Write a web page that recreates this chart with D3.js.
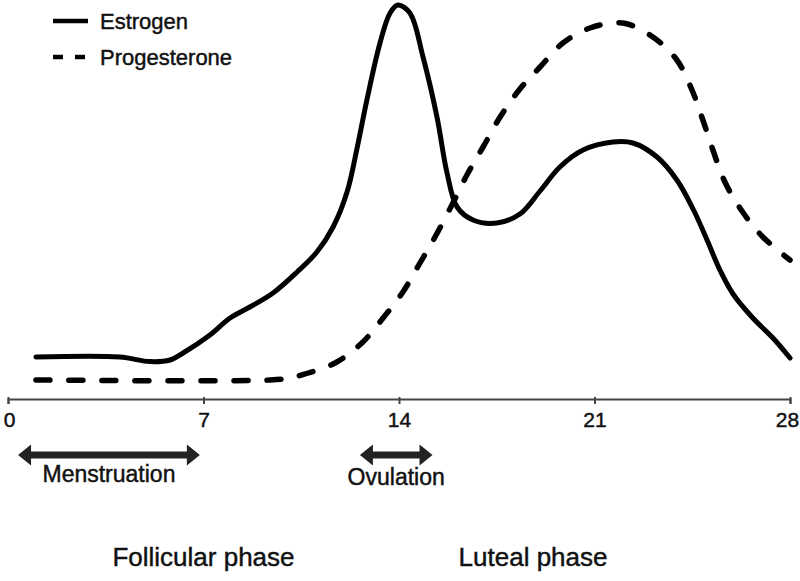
<!DOCTYPE html>
<html>
<head>
<meta charset="utf-8">
<script src="https://cdn.jsdelivr.net/npm/d3@7"></script>
<style>
  body { margin: 0; background: #fff; }
  text { font-family: "Liberation Sans", Arial, Helvetica, sans-serif; fill: #111; stroke: #111; stroke-width: 0.45px; }
</style>
</head>
<body>
<div id="chart"></div>
<script>
// day of cycle vs relative hormone level (0-100)
var estrogen = [[1, 10.75], [4, 10.75], [5.08, 9.6], [5.8, 10], [6.27, 11.75], [7.23, 16.25],
  [7.95, 20.5], [8.66, 23.25], [9.49, 26.75], [10.35, 32], [11.06, 37], [11.64, 43.25],
  [12.14, 52], [12.5, 63], [12.85, 75], [13.32, 89.25], [13.68, 96.75], [13.96, 98.75], [14.39, 96.75],
  [14.86, 85.75], [15.36, 70.75], [15.72, 56.75], [16.08, 48.25], [16.65, 45], [17.51, 44.25],
  [18.33, 46.5], [19.05, 52.25], [19.76, 58.25], [20.59, 62.5], [21.66, 64.5], [22.38, 64.25],
  [23.24, 60.75], [23.95, 55], [24.53, 47.75], [25.03, 40], [25.49, 32.5], [25.96, 26.5],
  [26.67, 20.5], [27.39, 15.5], [28, 10.5]];

var progesterone = [[1, 5], [9.38, 5], [10.1, 5.5], [10.63, 6.5], [11.71, 9.25], [12.67, 14.25],
  [13.43, 20.5], [14.14, 27], [14.75, 34.25], [15.29, 40.75], [15.93, 49.25], [16.47, 56.75],
  [17.01, 63.25], [17.62, 70.75], [18.3, 77.5], [19.05, 83.25], [19.87, 89.25], [20.84, 93],
  [22.02, 94.25], [23.09, 90.75], [23.95, 85], [24.49, 77.5], [24.88, 70], [25.24, 62.5],
  [25.67, 54.5], [26.28, 47.25], [27.03, 40.75], [28, 35]];

var tickDays = [0, 7, 14, 21, 28];

// arrows: [start day, end day, label]
var periods = [[0.36, 6.87, "Menstruation"], [12.6, 15.2, "Ovulation"]];
var phases = [[7, "Follicular phase"], [18.8, "Luteal phase"]];

var legendItems = [["Estrogen", null], ["Progesterone", "10,12"]];

var width = 800, height = 581;

var x = d3.scaleLinear().domain([0, 28]).range([8, 790]);
var y = d3.scaleLinear().domain([0, 100]).range([400, 0]);

var svg = d3.select("#chart").append("svg")
    .attr("width", width)
    .attr("height", height);

var line = d3.line()
    .x(function(d) { return x(d[0]); })
    .y(function(d) { return y(d[1]); })
    .curve(d3.curveCatmullRom.alpha(0.5));

svg.append("path")
    .datum(estrogen)
    .attr("d", line)
    .attr("fill", "none")
    .attr("stroke", "#000")
    .attr("stroke-width", 5)
    .attr("stroke-linejoin", "round")
    .attr("stroke-linecap", "round");

svg.append("path")
    .datum(progesterone)
    .attr("d", line)
    .attr("fill", "none")
    .attr("stroke", "#000")
    .attr("stroke-width", 5.5)
    .attr("stroke-dasharray", "14,19")
    .attr("stroke-linecap", "round");

// x axis
var xAxis = d3.axisBottom(x).tickValues(tickDays).tickSize(5).tickPadding(8);
var gx = svg.append("g")
    .attr("transform", "translate(0,399)")
    .call(xAxis);
gx.select(".domain").attr("stroke", "#444").attr("stroke-width", 2);
gx.selectAll(".tick line").attr("stroke", "#444").attr("stroke-width", 2).attr("y1", -2);
gx.selectAll(".tick text")
    .attr("font-size", 21)
    .attr("font-family", "Liberation Sans, Arial, sans-serif")
    .attr("fill", "#111")
    .attr("dx", function(d) { return d == 28 ? -3 : (d == 0 ? 1 : 0); });

// double-headed arrows
var arrowY = 455, head = 13, headH = 10.5, shaft = 3.5;
periods.forEach(function(p) {
  var x0 = x(p[0]), x1 = x(p[1]);
  var pts = [[x0, arrowY], [x0 + head, arrowY - headH], [x0 + head, arrowY - shaft],
    [x1 - head, arrowY - shaft], [x1 - head, arrowY - headH], [x1, arrowY],
    [x1 - head, arrowY + headH], [x1 - head, arrowY + shaft], [x0 + head, arrowY + shaft],
    [x0 + head, arrowY + headH]];
  svg.append("path")
      .attr("d", "M" + pts.join("L") + "Z")
      .attr("fill", "#222");
  svg.append("text")
      .attr("x", (x0 + x1) / 2)
      .attr("y", p[2] == "Ovulation" ? 485 : 482)
      .attr("text-anchor", "middle")
      .attr("font-size", 23)
      .text(p[2]);
});

phases.forEach(function(p) {
  svg.append("text")
      .attr("x", x(p[0]))
      .attr("y", 566)
      .attr("text-anchor", "middle")
      .attr("font-size", 26)
      .text(p[1]);
});

// legend
var legend = svg.selectAll(".legend")
    .data(legendItems)
  .enter().append("g")
    .attr("class", "legend")
    .attr("transform", function(d, i) { return "translate(53," + (21 + i * 36) + ")"; });

legend.append("line")
    .attr("x1", 0).attr("x2", 35)
    .attr("stroke", "#000")
    .attr("stroke-width", 4.5)
    .attr("stroke-dasharray", function(d) { return d[1]; });

legend.append("text")
    .attr("x", 47)
    .attr("y", 8)
    .attr("font-size", 22)
    .text(function(d) { return d[0]; });
</script>
</body>
</html>
